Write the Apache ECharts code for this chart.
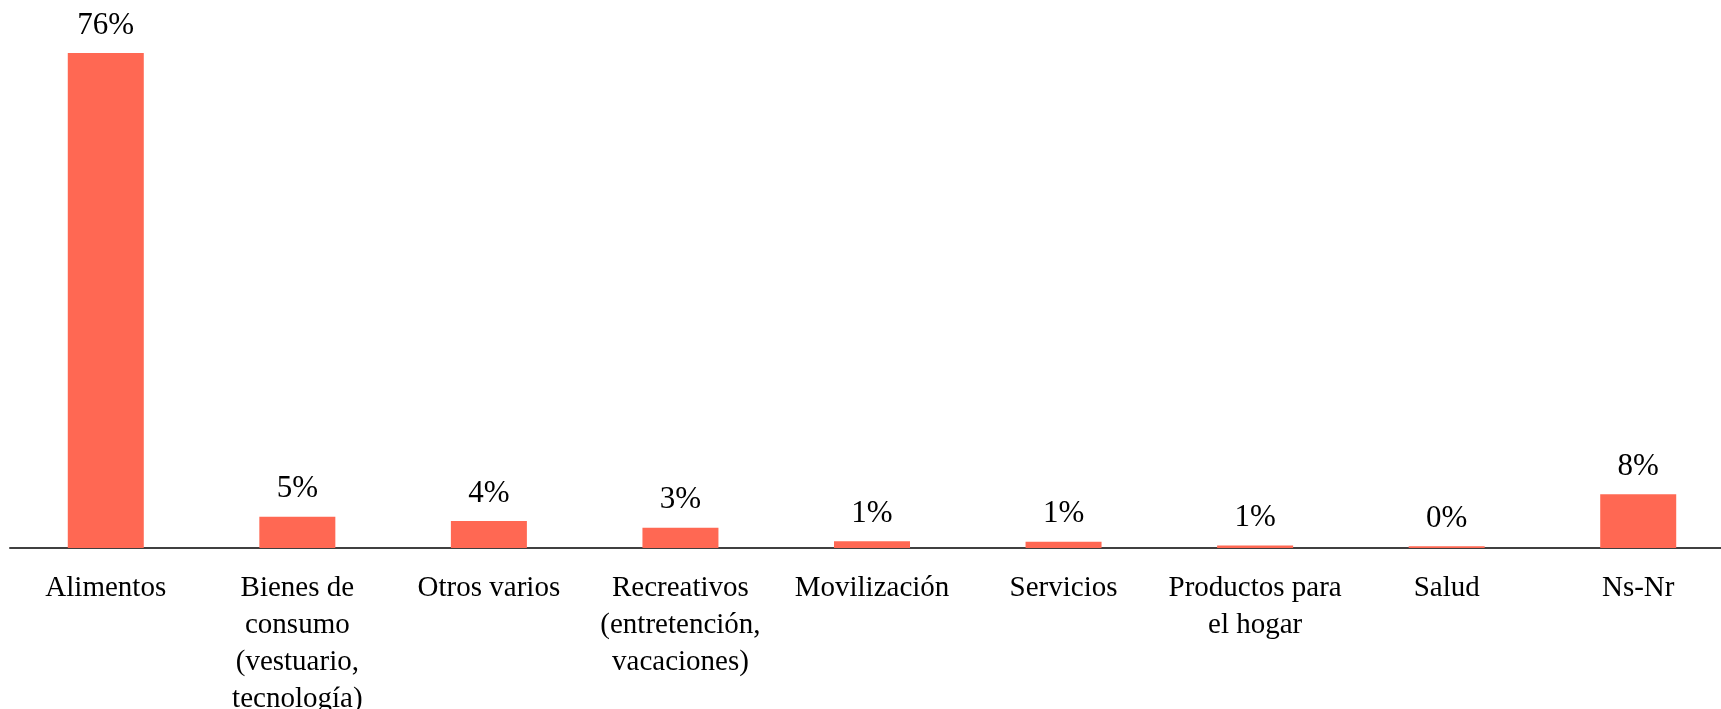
<!DOCTYPE html>
<html>
<head>
<meta charset="utf-8">
<script src="https://cdn.jsdelivr.net/npm/echarts@6/dist/echarts.min.js"></script>
<style>
html, body { margin: 0; padding: 0; background: #fff; }
#chartDiv { width: 1721px; height: 709px; }
</style>
</head>
<body>
<div id="chartDiv"></div>
<script>
// categorias (con saltos de linea como en el original)
const categorias = [
	'Alimentos',
	'Bienes de\nconsumo\n(vestuario,\ntecnología)',
	'Otros varios',
	'Recreativos\n(entretención,\nvacaciones)',
	'Movilización',
	'Servicios',
	'Productos para\nel hogar',
	'Salud',
	'Ns-Nr'
];
// porcentajes
const valores = [76, 4.8, 4.15, 3.1, 1.05, 0.95, 0.4, 0.25, 8.25];
// etiquetas mostradas sobre cada barra
const etiquetas = ['76%', '5%', '4%', '3%', '1%', '1%', '1%', '0%', '8%'];

const fuente = "'Palatino Linotype', 'Book Antiqua', Palatino, 'Liberation Serif', serif";

let chart = echarts.init(document.getElementById('chartDiv'));
let option = {
	animation: false,
	grid: {
		left: 10,
		top: 53,
		width: 1724,
		height: 495,
		containLabel: false,
		outerBoundsMode: 'none'
	},
	xAxis: {
		type: 'category',
		data: categorias,
		axisLine: {
			lineStyle: { color: '#404040', width: 2 }
		},
		axisTick: { show: false },
		axisLabel: {
			interval: 0,
			margin: 22,
			color: '#000',
			fontFamily: fuente,
			fontSize: 29,
			lineHeight: 37
		}
	},
	yAxis: {
		type: 'value',
		min: 0,
		max: 76,
		show: false,
		splitLine: { show: false }
	},
	series: [{
		type: 'bar',
		data: valores,
		barWidth: 76,
		itemStyle: { color: '#ff6853' },
		label: {
			show: true,
			position: 'top',
			distance: 12,
			color: '#000',
			fontFamily: fuente,
			fontSize: 31,
			formatter: (p) => etiquetas[p.dataIndex]
		}
	}]
};
chart.setOption(option);
</script>
</body>
</html>
